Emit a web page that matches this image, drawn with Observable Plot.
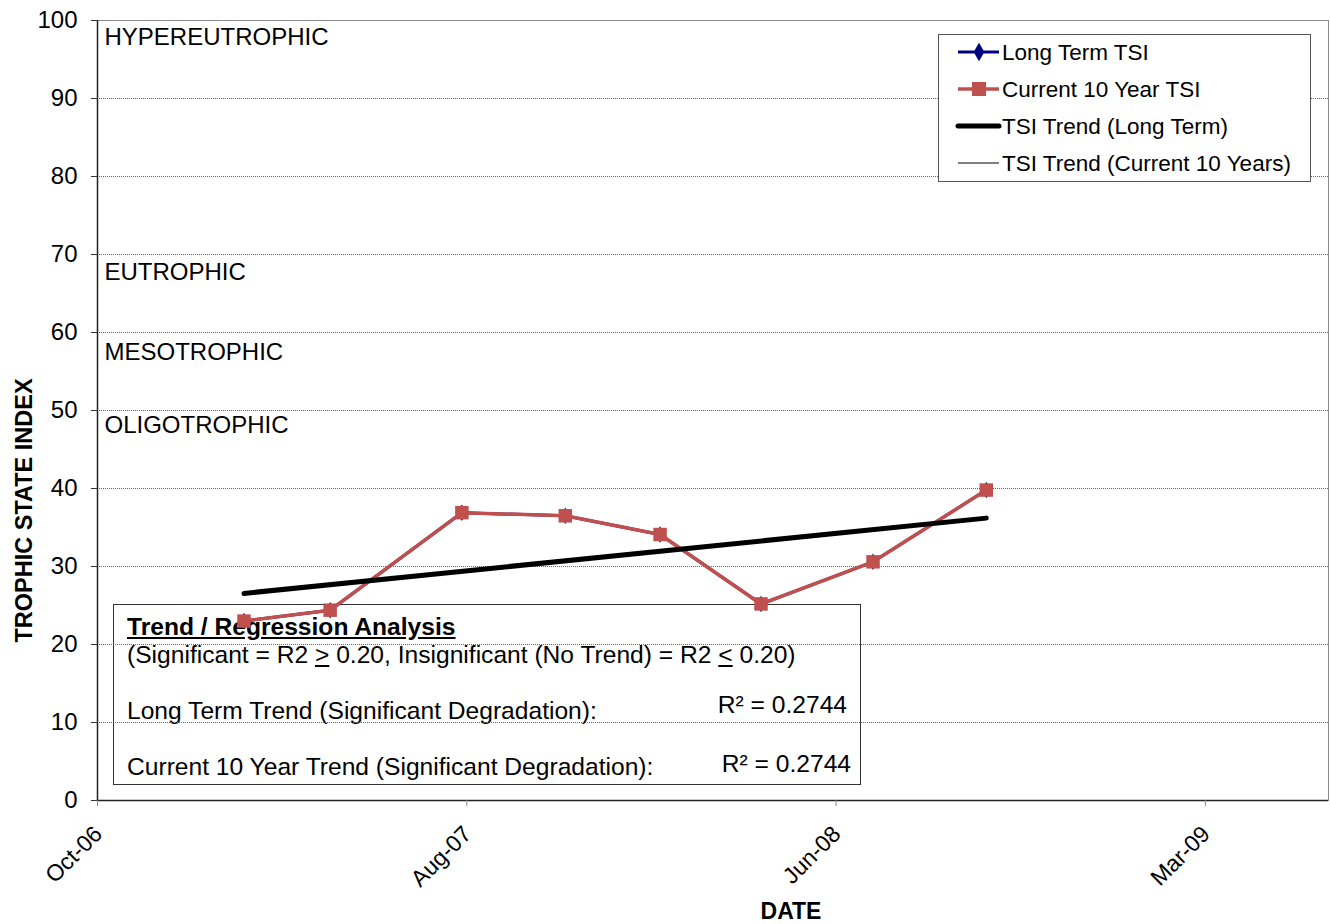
<!DOCTYPE html>
<html><head><meta charset="utf-8">
<script src="https://cdn.jsdelivr.net/npm/d3@7"></script>
<script src="https://cdn.jsdelivr.net/npm/@observablehq/plot@0.6"></script>
<style>
body{margin:0;background:#fff;font-family:"Liberation Sans",Arial,sans-serif;}
#wrap{position:relative;width:1330px;height:924px;overflow:hidden;}
#box{position:absolute;left:113px;top:604px;width:746px;height:179px;border:1.5px solid #333;}
#box div{position:absolute;font-size:24.6px;line-height:28px;white-space:nowrap;color:#000;}
#chart{position:absolute;left:0;top:0;}
#legend{position:absolute;left:938px;top:34px;width:371px;height:146px;border:1px solid #555;background:#fff;}
</style></head>
<body><div id="wrap"><div id="box"></div><div id="chart"></div><div id="legend"></div></div>
<script>
// ---- data ----
const sampleDates = ["2007-02-06","2007-04-17","2007-08-02","2007-10-25","2008-01-10","2008-04-01","2008-07-01","2008-10-01"];
const longTermTSI = [23.0, 24.4, 36.9, 36.5, 34.1, 25.2, 30.6, 39.8];
const current10TSI = [23.0, 24.4, 36.9, 36.5, 34.1, 25.2, 30.6, 39.8];
const xDomainDates = ["2006-10-10", "2009-07-06"];
const xTickDates = ["2006-10-10", "2007-08-06", "2008-06-01", "2009-03-28"];
const yTicks = [0, 10, 20, 30, 40, 50, 60, 70, 80, 90, 100];
const gridValues = [10, 20, 30, 40, 50, 60, 70, 80, 90];
const zoneNames = ["HYPEREUTROPHIC", "EUTROPHIC", "MESOTROPHIC", "OLIGOTROPHIC"];
const zoneLabelY = [97.8, 67.7, 57.5, 48.1];
const seriesNames = ["Long Term TSI", "Current 10 Year TSI", "TSI Trend (Long Term)", "TSI Trend (Current 10 Years)"];
const seriesColors = ["#000080", "#C0504D", "#000000", "#000000"];
const yTitle = "TROPHIC STATE INDEX";
const xTitle = "DATE";
const boxTitle = "Trend / Regression Analysis";
const trendLabels = ["Long Term Trend (Significant Degradation):", "Current 10 Year Trend (Significant Degradation):"];
const rSquared = [0.2744, 0.2744];

// ---- build ----
const parse = s => new Date(s + "T00:00:00Z");
const data = sampleDates.map((d, i) => ({date: parse(d), lt: longTermTSI[i], cur: current10TSI[i]}));
const xDomain = xDomainDates.map(parse);
const xTicks = xTickDates.map(parse);
const fmt = d3.utcFormat("%b-%y");
const FONT = "Liberation Sans, Arial, sans-serif";

const chart = Plot.plot({
  width: 1330, height: 924,
  marginLeft: 97, marginRight: 2, marginTop: 20, marginBottom: 124,
  style: {background: "transparent", fontFamily: FONT, fontSize: "24px", color: "#000"},
  x: {type: "utc", domain: xDomain},
  y: {domain: [0, 100]},
  marks: [
    Plot.gridY(gridValues, {stroke: "#666", strokeOpacity: 1, strokeDasharray: "1,1"}),
    Plot.frame({stroke: "#8c8c8c"}),
    Plot.ruleY([0], {stroke: "#222", strokeWidth: 1.5}),
    Plot.ruleX([xDomain[0]], {stroke: "#222", strokeWidth: 1.5}),
    Plot.axisY({ticks: yTicks, tickSize: 6, tickPadding: 14, fontSize: 24, label: null, stroke: "#333"}),
    Plot.axisX({ticks: xTicks, tickSize: 6, tickFormat: () => "", label: null, stroke: "#888"}),
    Plot.text(xTicks, {x: d => d, frameAnchor: "bottom", text: d => fmt(d), rotate: -45, textAnchor: "end", dx: 6, dy: 35, fontSize: 23}),
    Plot.text(zoneNames, {x: () => xDomain[0], y: (d, i) => zoneLabelY[i], text: d => d, textAnchor: "start", dx: 7, fontSize: 24}),
    Plot.line(data, {x: "date", y: "lt", stroke: seriesColors[0], strokeWidth: 3}),
    Plot.dot(data, {x: "date", y: "lt", symbol: "diamond", r: 5, fill: seriesColors[0]}),
    Plot.line(data, {x: "date", y: "cur", stroke: seriesColors[1], strokeWidth: 3.5}),
    Plot.dot(data, {x: "date", y: "cur", symbol: "square", r: 7.6, fill: seriesColors[1]}),
    Plot.linearRegressionY(data, {x: "date", y: "lt", stroke: seriesColors[2], strokeWidth: 5, ci: 0, strokeLinecap: "round"}),
    Plot.linearRegressionY(data, {x: "date", y: "cur", stroke: seriesColors[3], strokeWidth: 1, ci: 0}),
    Plot.text([yTitle], {frameAnchor: "left", textAnchor: "middle", rotate: -90, dx: -73, dy: 100, fontWeight: "bold", fontSize: 23.5}),
    Plot.text([xTitle], {frameAnchor: "bottom", textAnchor: "middle", dx: 78, dy: 118, fontWeight: "bold", fontSize: 23})
  ]
});
document.getElementById("chart").appendChild(chart);

// ---- regression box ----
const box = d3.select("#box");
box.append("div").style("left", "13px").style("top", "8px").style("font-weight", "bold").style("text-decoration", "underline").text(boxTitle);
box.append("div").style("left", "13px").style("top", "36px").html("(Significant = R2 <u>&gt;</u> 0.20, Insignificant (No Trend) = R2 <u>&lt;</u> 0.20)");
box.append("div").style("left", "13px").style("top", "92px").text(trendLabels[0]);
box.append("div").style("right", "13px").style("top", "86px").text("R² = " + rSquared[0].toFixed(4));
box.append("div").style("left", "13px").style("top", "148px").text(trendLabels[1]);
box.append("div").style("right", "9px").style("top", "145px").text("R² = " + rSquared[1].toFixed(4));

// ---- legend ----
const lg = d3.select("#legend").append("svg").attr("width", 371).attr("height", 146).style("display", "block");
const rowY = [17, 54, 91, 128];
seriesNames.forEach((name, i) => {
  const g = lg.append("g").attr("transform", `translate(0,${rowY[i]})`);
  const sw = [3, 3.5, 5, 1][i];
  g.append("line").attr("x1", 19).attr("x2", 60).attr("y1", 0).attr("y2", 0)
    .attr("stroke", seriesColors[i]).attr("stroke-width", sw).attr("stroke-linecap", i === 2 ? "round" : "butt");
  if (i === 0) g.append("path").attr("d", d3.symbol(d3.symbolDiamond, 100)()).attr("transform", "translate(40,0)").attr("fill", seriesColors[0]);
  if (i === 1) g.append("rect").attr("x", 33).attr("y", -7).attr("width", 14).attr("height", 14).attr("fill", seriesColors[1]);
  g.append("text").attr("x", 63).attr("y", 0).attr("dy", "0.35em").attr("font-size", 22.5).attr("font-family", FONT).text(name);
});
</script>
</body></html>
